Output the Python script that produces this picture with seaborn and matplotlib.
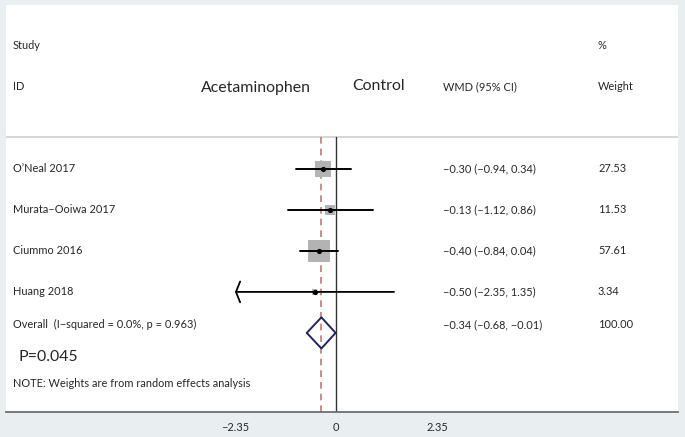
import numpy as np
import pandas as pd
import matplotlib
matplotlib.use("Agg")
import matplotlib.pyplot as plt
import matplotlib.transforms as mtransforms
import seaborn as sns

# dados do forest plot
studies = ["O’Neal 2017", "Murata–Ooiwa 2017", "Ciummo 2016", "Huang 2018"]
wmd = [-0.30, -0.13, -0.40, -0.50]
ci_low = [-0.94, -1.12, -0.84, -2.35]
ci_high = [0.34, 0.86, 0.04, 1.35]
weights = [27.53, 11.53, 57.61, 3.34]

overall_label = "Overall  (I−squared = 0.0%, p = 0.963)"
overall_wmd = -0.34
overall_low = -0.68
overall_high = -0.01
overall_weight = 100.00

xticks = [-2.35, 0, 2.35]
p_text = "P=0.045"
note_text = "NOTE: Weights are from random effects analysis"

df = pd.DataFrame({"study": studies, "wmd": wmd, "low": ci_low,
                   "high": ci_high, "weight": weights})
df["row"] = np.arange(1, len(df) + 1)


def fmt(v):
    return f"{v:.2f}".replace("-", "−")


sns.set_style("white")
plt.rcParams["font.family"] = ["Lato", "DejaVu Sans"]

bg = "#e9eef1"
fig = plt.figure(figsize=(6.85, 4.37), dpi=100, facecolor=bg)
ax = fig.add_axes([6 / 685, 1 - 412 / 437, 672 / 685, 407 / 437])
ax.set_facecolor("white")

xmin, xmax = -7.678, 7.957
ax.set_xlim(xmin, xmax)
ax.set_ylim(6.93, -3.0)
overall_row = len(df) + 1
top_line = 0.22

# linhas de referência
ax.plot([xmin, xmax], [top_line, top_line], color="#d6d6d6", lw=1.5, zorder=1)
ax.plot([0, 0], [top_line, 6.93], color="#333333", lw=1.0, zorder=2)
ax.plot([overall_wmd, overall_wmd], [top_line, 6.93], color="#c07878",
        lw=1.2, ls=(0, (4, 3)), zorder=2)

# quadrados proporcionais ao peso
sns.scatterplot(data=df, x="wmd", y="row", size="weight", sizes=(0, 265),
                size_norm=(0, max(weights)), marker="s", color="#b3b3b3",
                linewidth=0, legend=False, ax=ax, zorder=3)

# intervalos de confiança
for _, r in df.iterrows():
    if r["low"] <= xticks[0]:
        ax.annotate("", xy=(xticks[0], r["row"]), xytext=(r["high"], r["row"]),
                    arrowprops=dict(arrowstyle="->,head_length=0.3,head_width=0.75",
                                    lw=1.3, color="black", shrinkA=0, shrinkB=0),
                    zorder=4)
    else:
        ax.plot([r["low"], r["high"]], [r["row"], r["row"]], color="black",
                lw=1.4, zorder=4)

sns.scatterplot(data=df, x="wmd", y="row", color="black", s=14, linewidth=0,
                legend=False, ax=ax, zorder=5)

# diamante do efeito global
dx = [overall_low, overall_wmd, overall_high, overall_wmd, overall_low]
dy = [overall_row, overall_row - 0.38, overall_row, overall_row + 0.38, overall_row]
ax.plot(dx, dy, color="#23235f", lw=1.4, zorder=4)

# textos
tr = mtransforms.blended_transform_factory(ax.transAxes, ax.transData)
col_study = 7 / 672
col_wmd = 437 / 672
col_w = 592 / 672
fs = 7.9
fs_big = 11.4

ax.text(col_study, -2, "Study", transform=tr, fontsize=fs, va="center")
ax.text(col_study, -1, "ID", transform=tr, fontsize=fs, va="center")
ax.text(col_w, -2, "%", transform=tr, fontsize=fs, va="center")
ax.text(col_w, -1, "Weight", transform=tr, fontsize=fs, va="center")
ax.text(col_wmd, -1, "WMD (95% CI)", transform=tr, fontsize=fs, va="center")
ax.text(-1.86, -0.97, "Acetaminophen", fontsize=fs_big, ha="center", va="center")
ax.text(0.98, -1.02, "Control", fontsize=fs_big, ha="center", va="center")

for _, r in df.iterrows():
    ax.text(col_study, r["row"], r["study"], transform=tr, fontsize=fs, va="center")
    ax.text(col_wmd, r["row"], f"{fmt(r['wmd'])} ({fmt(r['low'])}, {fmt(r['high'])})",
            transform=tr, fontsize=fs, va="center")
    ax.text(col_w, r["row"], fmt(r["weight"]), transform=tr, fontsize=fs, va="center")

ax.text(col_study, overall_row - 0.2, overall_label, transform=tr, fontsize=fs, va="center")
ax.text(col_wmd, overall_row - 0.2,
        f"{fmt(overall_wmd)} ({fmt(overall_low)}, {fmt(overall_high)})",
        transform=tr, fontsize=fs, va="center")
ax.text(col_w, overall_row - 0.2, fmt(overall_weight), transform=tr, fontsize=fs, va="center")
ax.text(12 / 672, 5.6, p_text, transform=tr, fontsize=fs_big, va="center")
ax.text(col_study, 6.23, note_text, transform=tr, fontsize=fs, va="center")

# eixos
for side in ["top", "left", "right"]:
    ax.spines[side].set_visible(False)
ax.spines["bottom"].set_color("#6e6e6e")
ax.spines["bottom"].set_linewidth(1.3)
ax.set_xticks(xticks)
ax.set_xticklabels([fmt(t) if t != 0 else "0" for t in xticks], fontsize=fs)
ax.tick_params(axis="x", direction="out", length=4, width=1, color="#6e6e6e", pad=3)
ax.set_yticks([])
ax.set_xlabel("")
ax.set_ylabel("")

fig.savefig("out.png", dpi=100, facecolor=bg)
